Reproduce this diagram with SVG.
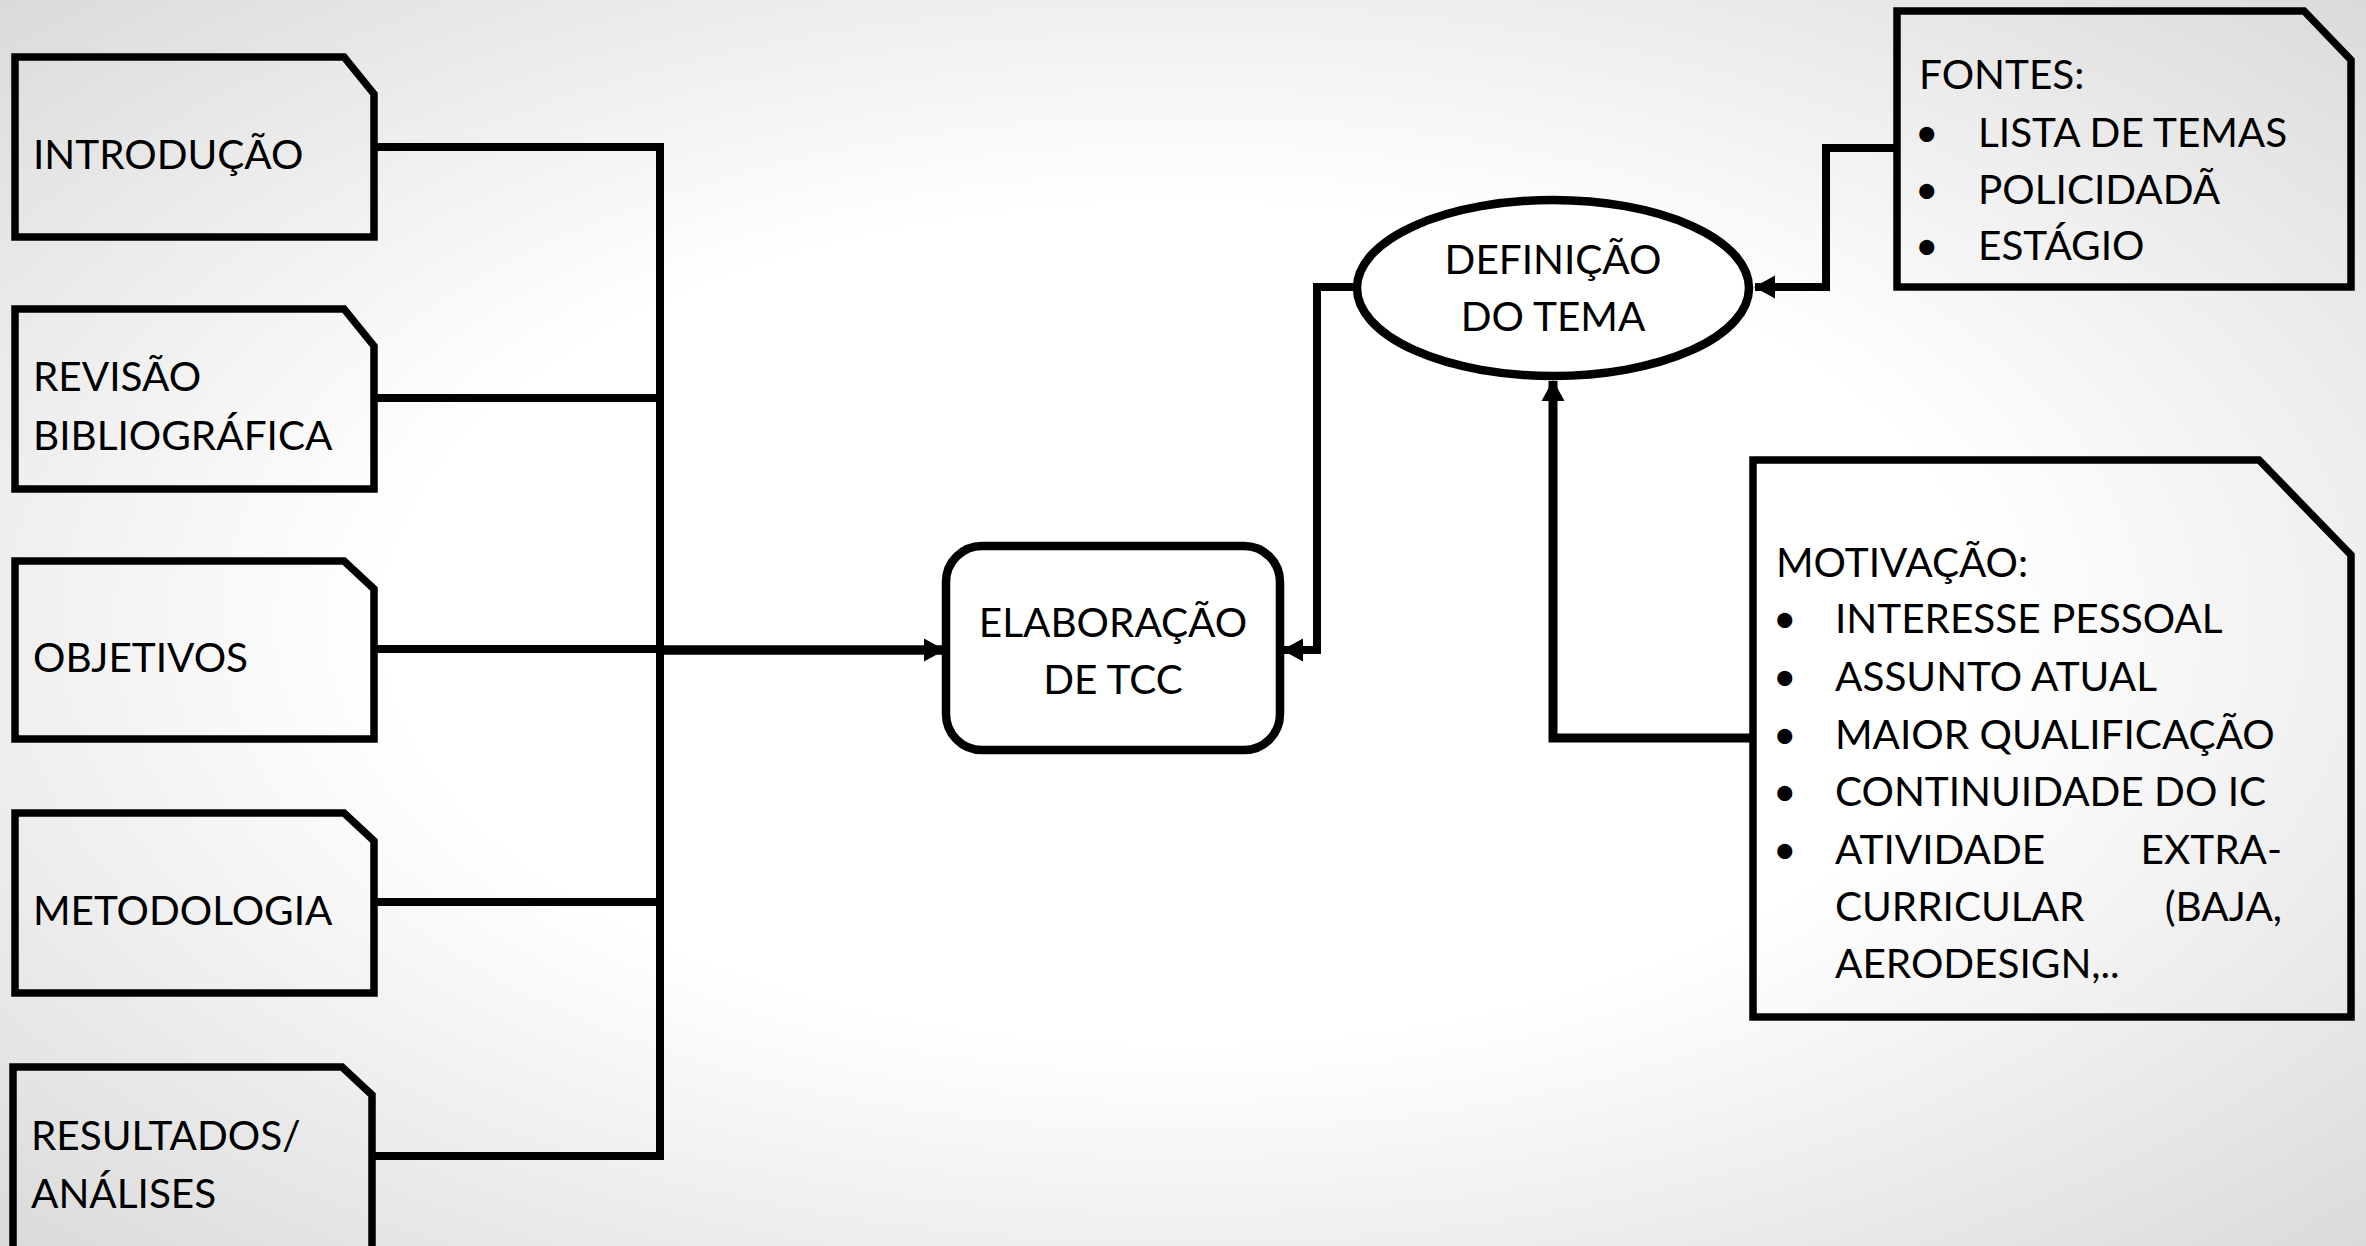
<svg xmlns="http://www.w3.org/2000/svg" width="2366" height="1246" viewBox="0 0 2366 1246">
<style>
.t{font-family:Lato,"Open Sans","Liberation Sans",sans-serif;font-size:40.5px;fill:#000}
.box{fill:none;stroke:#000;stroke-width:7.5;stroke-linejoin:miter}
.fill{fill:#fff;stroke:#000;stroke-width:8.5}
.c{fill:none;stroke:#000;stroke-width:8}
</style>
<defs>
<radialGradient id="bg" cx="0.5" cy="0.5" r="0.75">
<stop offset="0.45" stop-color="#ffffff"/>
<stop offset="1" stop-color="#d6d6d6"/>
</radialGradient>
<marker id="ah" markerUnits="userSpaceOnUse" markerWidth="22" markerHeight="24" refX="20" refY="12" orient="auto">
<path d="M0,0.5 L21,12 L0,23.5 Z" fill="#000"/>
</marker>
</defs>
<rect width="2366" height="1246" fill="url(#bg)"/>

<g id="connectors">
<path class="c" d="M374,147 H660 V1156 H374"/>
<path class="c" d="M374,398 H660"/>
<path class="c" d="M374,649 H660"/>
<path class="c" d="M374,902 H660"/>
<path class="c" d="M656,650 H944" style="stroke-width:9.5" marker-end="url(#ah)"/>
<path class="c" d="M1357,287 H1317 V650 H1283" marker-end="url(#ah)"/>
<path class="c" d="M1897,148 H1826 V287 H1755" marker-end="url(#ah)"/>
<path class="c" d="M1753,738 H1553 V381" style="stroke-width:9" marker-end="url(#ah)"/>
</g>

<g id="introducao">
<path class="box" d="M15,57 H344 L374,94 V237 H15 Z"/>
<text class="t" x="33" y="169">INTRODUÇÃO</text>
</g>
<g id="revisao">
<path class="box" d="M15,309 H344 L374,346 V489 H15 Z"/>
<text class="t" x="33" y="391">REVISÃO</text>
<text class="t" x="33" y="450">BIBLIOGRÁFICA</text>
</g>
<g id="objetivos">
<path class="box" d="M15,561 H344 L374,589 V739 H15 Z"/>
<text class="t" x="33" y="672">OBJETIVOS</text>
</g>
<g id="metodologia">
<path class="box" d="M15,813 H344 L374,841 V993 H15 Z"/>
<text class="t" x="33" y="925">METODOLOGIA</text>
</g>
<g id="resultados">
<path class="box" d="M13,1067 H342 L372,1095 V1256 H13 Z"/>
<text class="t" x="31" y="1150">RESULTADOS/</text>
<text class="t" x="31" y="1208">ANÁLISES</text>
</g>

<g id="elaboracao">
<rect class="fill" x="946" y="546" width="334" height="204" rx="36"/>
<text class="t" x="1113" y="637" text-anchor="middle">ELABORAÇÃO</text>
<text class="t" x="1113" y="694" text-anchor="middle">DE TCC</text>
</g>

<g id="definicao">
<ellipse class="fill" cx="1553" cy="288" rx="196" ry="88"/>
<text class="t" x="1553" y="274" text-anchor="middle">DEFINIÇÃO</text>
<text class="t" x="1553" y="331" text-anchor="middle">DO TEMA</text>
</g>

<g id="fontes">
<path class="box" d="M1897,11 H2304 L2351,60 V287 H1897 Z"/>
<text class="t" x="1919" y="89">FONTES:</text>
<text class="t" x="1915" y="147">•</text><text class="t" x="1978" y="147">LISTA DE TEMAS</text>
<text class="t" x="1915" y="204">•</text><text class="t" x="1978" y="204">POLICIDADÃ</text>
<text class="t" x="1915" y="260">•</text><text class="t" x="1978" y="260">ESTÁGIO</text>
</g>

<g id="motivacao">
<path class="box" d="M1753,460 H2259 L2351,555 V1017 H1753 Z"/>
<text class="t" x="1776" y="577">MOTIVAÇÃO:</text>
<text class="t" x="1773" y="633">•</text><text class="t" x="1835" y="633">INTERESSE PESSOAL</text>
<text class="t" x="1773" y="691">•</text><text class="t" x="1835" y="691">ASSUNTO ATUAL</text>
<text class="t" x="1773" y="749">•</text><text class="t" x="1835" y="749">MAIOR QUALIFICAÇÃO</text>
<text class="t" x="1773" y="806">•</text><text class="t" x="1835" y="806">CONTINUIDADE DO IC</text>
<text class="t" x="1773" y="864">•</text><text class="t" x="1835" y="864">ATIVIDADE</text><text class="t" x="2282" y="864" text-anchor="end">EXTRA-</text>
<text class="t" x="1835" y="921">CURRICULAR</text><text class="t" x="2282" y="921" text-anchor="end">(BAJA,</text>
<text class="t" x="1835" y="978">AERODESIGN,..</text>
</g>
</svg>
